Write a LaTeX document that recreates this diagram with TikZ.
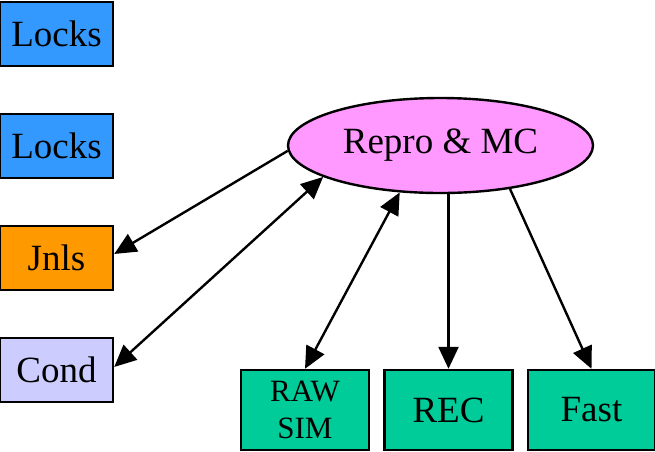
\documentclass[tikz,border=0pt]{standalone}
\usepackage{fontspec}
\setmainfont{Liberation Serif}
\usetikzlibrary{arrows.meta,shapes.geometric}

\definecolor{lockblue}{HTML}{3399FF}
\definecolor{jnlorange}{HTML}{FF9900}
\definecolor{condlilac}{HTML}{CCCCFF}
\definecolor{outgreen}{HTML}{00CC99}
\definecolor{mcpink}{HTML}{FF99FF}

\tikzset{
  box/.style={draw=black, line width=2.4pt, inner sep=0pt, minimum height=64pt},
  leftbox/.style={box, minimum width=113pt, font=\fontsize{37}{44}\selectfont},
  outbox/.style={box, fill=outgreen, minimum width=128pt, minimum height=80pt,
                 font=\fontsize{37}{44}\selectfont},
  tip/.tip={Triangle[length=22pt,width=20pt]},
  link/.style={line width=2.4pt, -tip},
  duplex/.style={line width=2.4pt, tip-tip},
}

\begin{document}
\begin{tikzpicture}[x=1pt,y=-1pt]
  \useasboundingbox (0,0) rectangle (655,451);

  % left column
  \node[leftbox, fill=lockblue]  (locksA) at (56.5,34)  {Locks};
  \node[leftbox, fill=lockblue]  (locksB) at (56.5,146) {Locks};
  \node[leftbox, fill=jnlorange] (jnls)   at (56.5,258) {Jnls};
  \node[leftbox, fill=condlilac] (cond)   at (56.5,370) {Cond};

  % central process
  \node[ellipse, draw=black, line width=2.4pt, fill=mcpink, inner sep=0pt,
        minimum width=305pt, minimum height=95pt,
        font=\fontsize{37}{44}\selectfont] (repro) at (440.5,145.5) {Repro \& MC};

  % outputs
  \node[outbox, align=center, font=\fontsize{31}{37}\selectfont] (raw) at (305,410) {RAW\\SIM};
  \node[outbox] (rec)  at (448.5,410) {REC};
  \node[outbox, minimum width=127pt] (fast) at (591.5,410) {Fast};

  % connections
  \draw[link]   (repro.182.4) -- (jnls.4);
  \draw[duplex] (repro.195)   -- (cond.3);
  \draw[duplex] (repro.229.5) -- (raw.north);
  \draw[link]   (repro.south -| rec.north) -- (rec.north);
  \draw[link]   (repro.328.5) -- (fast.north);
\end{tikzpicture}
\end{document}
